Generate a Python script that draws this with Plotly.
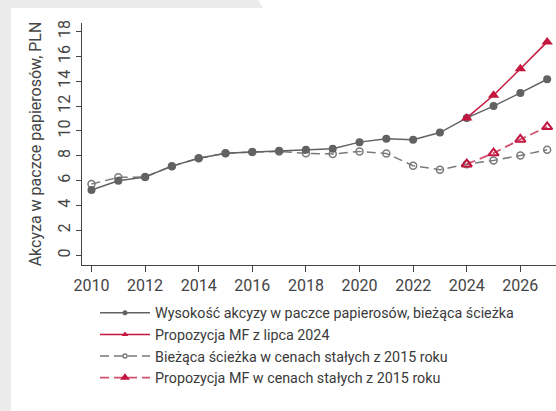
import plotly.graph_objects as go

years = list(range(2010, 2028))
current_nominal = [5.25, 6.0, 6.3, 7.17, 7.8, 8.2, 8.3, 8.4, 8.48, 8.56, 9.1, 9.37, 9.3, 9.87, 11.05, 12.0, 13.06, 14.16]
mf_years = [2024, 2025, 2026, 2027]
mf_nominal = [11.05, 12.87, 15.0, 17.16]
current_real = [5.73, 6.27, 6.3, 7.17, 7.8, 8.2, 8.3, 8.35, 8.2, 8.14, 8.35, 8.19, 7.2, 6.88, 7.33, 7.63, 8.03, 8.48]
mf_real = [7.33, 8.22, 9.32, 10.33]

names = [
    "Wysokość akcyzy w paczce papierosów, bieżąca ścieżka",
    "Propozycja MF z lipca 2024",
    "Bieżąca ścieżka w cenach stałych z 2015 roku",
    "Propozycja MF w cenach stałych z 2015 roku",
]
x_ticks = list(range(2010, 2027, 2))
y_ticks = list(range(0, 19, 2))

GRAY = "#626262"
GRAY_D = "#7a7a7a"
RED = "#c3173f"
RED_D = "rgba(195,23,63,0.75)"
FONT = "Roboto, sans-serif"

W, H = 556, 411
L, R, T, B = 82, 0, 23, 146
pw, ph = W - L - R, H - T - B

def px(x):
    return (x - L) / pw

def py(y):
    return (H - B - y) / ph

styles = {
    names[0]: dict(line=dict(color=GRAY, width=1.5), symbol="circle", lsym="circle", mcolor=GRAY, mline=0, size=8, lsize=5),
    names[1]: dict(line=dict(color=RED, width=1.5), symbol="triangle-up", lsym="triangle-up", mcolor=RED, mline=0, size=10, lsize=6),
    names[2]: dict(line=dict(color=GRAY_D, width=1.5, dash="9px,5px"), symbol="circle-open", lsym="circle-open", mcolor=GRAY_D, mline=1.5, size=7, lsize=4),
    names[3]: dict(line=dict(color=RED_D, width=1.8, dash="9px,5px"), symbol="triangle-up-open", lsym="triangle-up", mcolor=RED, mline=2, size=9, lsize=6),
}
series = [
    (names[2], years, current_real),
    (names[0], years, current_nominal),
    (names[1], mf_years, mf_nominal),
    (names[3], mf_years, mf_real),
]

fig = go.Figure()
for name, xs, ys in series:
    s = styles[name]
    fig.add_trace(go.Scatter(x=xs, y=ys, name=name, mode="lines+markers", showlegend=False,
                             line=s["line"],
                             marker=dict(symbol=s["symbol"], size=s["size"], color=s["mcolor"],
                                         line=dict(width=s["mline"], color=s["mcolor"]))))
# legend entries (smaller markers, like the reference key)
for name in names:
    s = styles[name]
    fig.add_trace(go.Scatter(x=[None], y=[None], name=name, mode="lines+markers",
                             line=s["line"],
                             marker=dict(symbol=s["lsym"], size=s["lsize"], color=s["mcolor"],
                                         line=dict(width=min(s["mline"], 1.5), color=s["mcolor"]))))

shapes = [
    dict(type="rect", xref="paper", yref="paper", x0=px(0), x1=px(11), y0=py(H), y1=py(0),
         fillcolor="#ebebeb", line=dict(width=0), layer="below"),
    dict(type="path", xref="paper", yref="paper",
         path=f"M {px(0)},{py(0)} L {px(258)},{py(0)} L {px(263)},{py(8)} L {px(0)},{py(8)} Z",
         fillcolor="#ebebeb", line=dict(width=0), layer="below"),
]

fig.update_layout(
    width=W, height=H,
    margin=dict(l=L, r=R, t=T, b=B),
    paper_bgcolor="white", plot_bgcolor="rgba(0,0,0,0)",
    font=dict(family=FONT, color="#444", size=16),
    shapes=shapes,
    legend=dict(
        orientation="v", x=px(95), xanchor="left", y=py(297), yanchor="top",
        traceorder="normal", font=dict(size=14.3, color="#3a3a3a"),
        itemwidth=50, tracegroupgap=0, bgcolor="rgba(0,0,0,0)",
    ),
    showlegend=True,
)
fig.update_xaxes(range=[2009.646, 2027.33], tickvals=x_ticks, ticktext=[str(v) for v in x_ticks],
                 showline=True, linecolor="#444", linewidth=1, ticks="outside", ticklen=6,
                 tickcolor="#444", showgrid=False, zeroline=False, automargin=False,
                 tickfont=dict(size=16, color="#444"))
fig.update_yaxes(range=[-0.78, 18.68], tickvals=y_ticks, ticktext=[str(v) for v in y_ticks],
                 showline=True, linecolor="#444", linewidth=1, ticks="outside", ticklen=5,
                 tickcolor="#444", showgrid=False, zeroline=False, automargin=False,
                 tickangle=-90, tickfont=dict(size=16, color="#444"),
                 title=dict(text="Akcyza w paczce papierosów, PLN", font=dict(size=16, color="#444"), standoff=8))

fig.write_html("out.html", config={"displayModeBar": False},
               post_script="document.body.style.margin='0';document.body.style.overflow='hidden';")
